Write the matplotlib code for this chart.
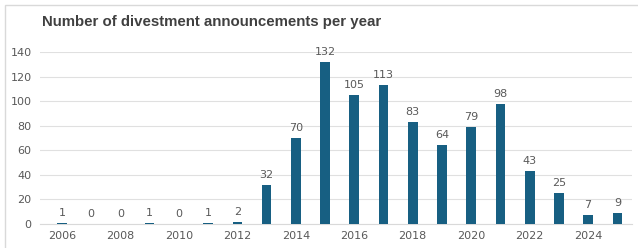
import matplotlib.pyplot as plt
from matplotlib.patches import Rectangle

years = list(range(2006, 2026))
counts = [1, 0, 0, 1, 0, 1, 2, 32, 70, 132, 105, 113, 83, 64, 79, 98, 43, 25, 7, 9]
tick_years = list(range(2006, 2025, 2))
title = "Number of divestment announcements per year"

fig = plt.figure(figsize=(6.38, 2.48), dpi=100)
fig.patches.append(Rectangle((5/638, -0.1), 1.2, 1 - 5/248 + 0.1, transform=fig.transFigure,
                             fill=False, edgecolor='#d9d9d9', linewidth=1.0))
ax = fig.add_axes([40/638, 24/248, 592/638, 172/248])

x = list(range(len(years)))
ax.bar(x, counts, width=0.33, color='#175f82', zorder=3)
for xi, c in zip(x, counts):
    ax.text(xi, c + 4, str(c), ha='center', va='bottom', fontsize=8, color='#595959')

ax.set_xlim(-0.75, 19.5)
ax.set_ylim(0, 140)
ax.set_yticks(range(0, 141, 20))
ax.set_xticks([years.index(y) for y in tick_years])
ax.set_xticklabels([str(y) for y in tick_years])
ax.tick_params(axis='both', length=0, labelsize=8, colors='#595959')
ax.tick_params(axis='y', pad=6)
ax.tick_params(axis='x', pad=5)
ax.grid(axis='y', color='#e0e0e0', linewidth=0.8, zorder=0)
for s in ['top', 'right', 'left']:
    ax.spines[s].set_visible(False)
ax.spines['bottom'].set_color('#d9d9d9')

fig.text(42/638, 1 - 22/248, title, fontsize=10.8, fontweight='bold', color='#404040',
         family='Liberation Sans', ha='left', va='center')

fig.savefig('out.png', dpi=100)
